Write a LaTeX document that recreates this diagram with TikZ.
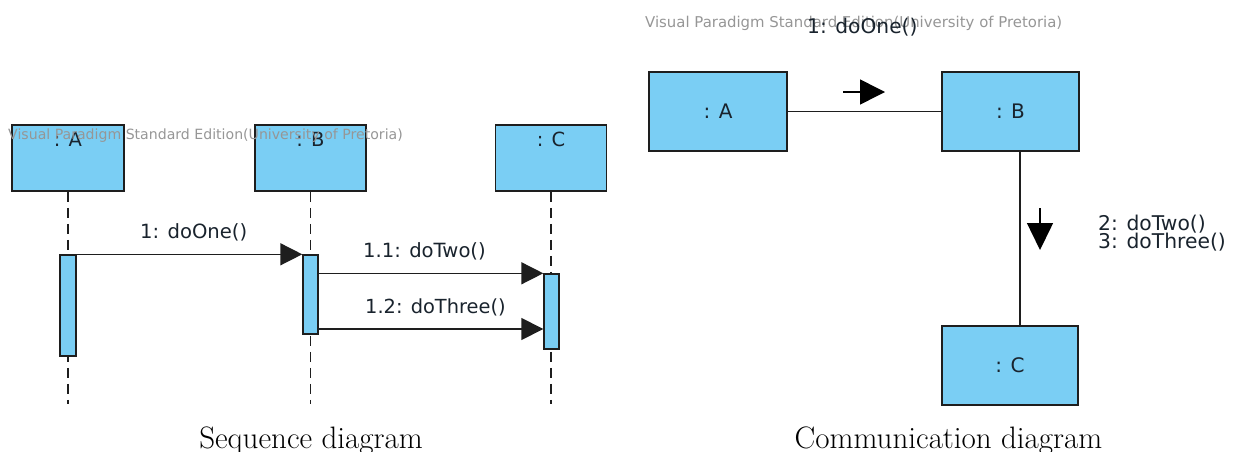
\documentclass[tikz,border=0pt]{standalone}
\usepackage{fontspec}
\newfontfamily\vpfont{DejaVu Sans}
\usetikzlibrary{arrows.meta}
\definecolor{vpblue}{RGB}{122,206,244}
\definecolor{vpline}{RGB}{30,30,30}
\definecolor{vpmark}{RGB}{150,150,150}
\definecolor{vptext}{RGB}{25,35,45}

\begin{document}
\begin{tikzpicture}[x=1pt,y=-1pt,
  objbox/.style={draw=vpline, line width=1.6pt, fill=vpblue, inner sep=0pt},
  actbar/.style={draw=vpline, line width=1.4pt, fill=vpblue, inner sep=0pt, minimum width=15pt},
  lifeline/.style={draw=vpline, line width=1.5pt, dash pattern=on 10pt off 6pt},
  msg/.style={draw=vpline, line width=1.5pt, -{Triangle[length=22pt,width=22pt]}},
  link/.style={draw=vpline, line width=1.5pt},
  dirarrow/.style={draw=black, line width=1.5pt, -{Triangle[length=25pt,width=25pt]}},
  txt/.style={inner sep=0pt, anchor=base west, text=vptext},
  objlbl/.style={inner sep=0pt, anchor=base, text=vptext},
  watermark/.style={inner sep=0pt, anchor=base west, text=vpmark},
  caption/.style={inner sep=0pt, anchor=base, font=\fontsize{31}{36}\selectfont}]

\useasboundingbox (0,0) rectangle (1233,452);

% ---------------- sequence diagram ----------------
\node[objbox, minimum width=112pt, minimum height=66pt] (sA) at (68,158) {};
\node[objbox, minimum width=111pt, minimum height=66pt] (sB) at (310.5,158) {};
\node[objbox, minimum width=111pt, minimum height=66pt] (sC) at (551,158) {};
\node[objlbl, font=\vpfont\fontsize{19.5}{21}\selectfont] (sAl) at (68,146) {: A};
\node[objlbl, font=\vpfont\fontsize{19.5}{21}\selectfont] (sBl) at (310.5,146) {: B};
\node[objlbl, font=\vpfont\fontsize{19.5}{21}\selectfont] (sCl) at (551,146) {: C};

% lifelines
\coordinate (sAend) at (68,404);
\coordinate (sBend) at (310.5,404);
\coordinate (sCend) at (551,404);
\draw[lifeline] (sA.south) -- (sAend);
\draw[lifeline] (sB.south) -- (sBend);
\draw[lifeline] (sC.south) -- (sCend);

% activation bars
\node[actbar, minimum width=16pt, minimum height=101pt] (actA) at (68,305.5) {};
\node[actbar, minimum height=79pt] (actB) at (310.5,294.5) {};
\node[actbar, minimum height=75pt] (actC) at (551.5,311.5) {};

% messages
\coordinate (m12) at (551.5,329);
\draw[msg] (actA.north east) -- (actB.north west);
\draw[msg] (actB.east |- actC.north) -- (actC.north west);
\draw[msg] (actB.east |- m12) -- (actC.west |- m12);

\node[txt, font=\vpfont\fontsize{19.6}{22}\selectfont] (l1) at (140,238) {1: doOne()};
\node[txt, font=\vpfont\fontsize{19.6}{22}\selectfont] (l11) at (363,257) {1.1: doTwo()};
\node[txt, font=\vpfont\fontsize{19.4}{22}\selectfont] (l12) at (365,313) {1.2: doThree()};

\node[watermark, font=\vpfont\fontsize{14.1}{16}\selectfont] (wm1) at (8,139)
  {Visual Paradigm Standard Edition(University of Pretoria)};

% ---------------- communication diagram ----------------
\node[objbox, minimum width=138pt, minimum height=79pt] (cA) at (718,111.5) {};
\node[objbox, minimum width=137pt, minimum height=79pt] (cB) at (1010.5,111.5) {};
\node[objbox, minimum width=136pt, minimum height=79pt] (cC) at (1010,365.5) {};
\node[objlbl, font=\vpfont\fontsize{20}{22}\selectfont] (cAl) at (718,118) {: A};
\node[objlbl, font=\vpfont\fontsize{20}{22}\selectfont] (cBl) at (1010.5,118) {: B};
\node[objlbl, font=\vpfont\fontsize{20}{22}\selectfont] (cCl) at (1010,372) {: C};

\draw[link] (cA.east) -- (cB.west);
\draw[link] ([xshift=9.5pt]cB.south) -- ([xshift=10pt]cC.north);

% message direction markers
\coordinate (d1s) at (843,92);
\coordinate (d1e) at (885,92);
\coordinate (d2s) at (1040,208);
\coordinate (d2e) at (1040,250);
\draw[dirarrow] (d1s) -- (d1e);
\draw[draw=black, line width=1.5pt, -{Triangle[length=27pt,width=26pt]}] (d2s) -- (d2e);

\node[watermark, font=\vpfont\fontsize{14.9}{17}\selectfont] (wm2) at (645,28)
  {Visual Paradigm Standard Edition(University of Pretoria)};

\node[txt, font=\vpfont\fontsize{20.2}{22}\selectfont] (c1) at (807,34) {1: doOne()};
\node[txt, font=\vpfont\fontsize{20.3}{22}\selectfont] (c2) at (1098,230) {2: doTwo()};
\node[txt, font=\vpfont\fontsize{20.3}{22}\selectfont] (c3) at (1098,248) {3: doThree()};

% ---------------- captions ----------------
\node[caption] (capS) at (311,448) {Sequence diagram};
\node[caption] (capC) at (948.5,448) {Communication diagram};
\end{tikzpicture}
\end{document}
